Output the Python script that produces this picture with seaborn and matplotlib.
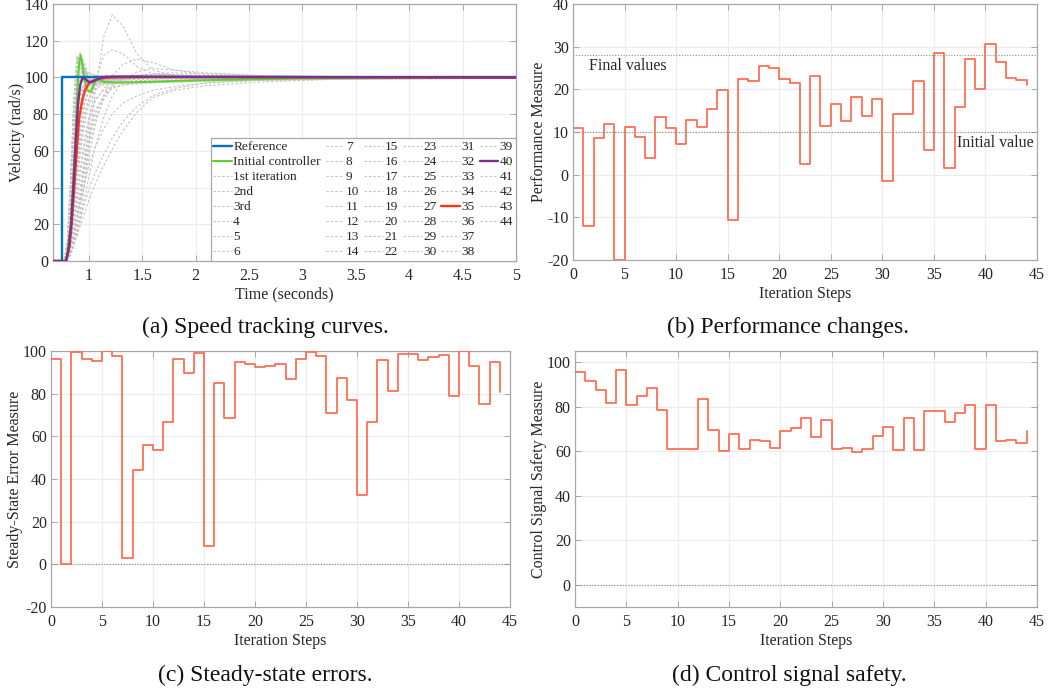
import numpy as np
import pandas as pd
import seaborn as sns
import matplotlib.pyplot as plt
from matplotlib.lines import Line2D

# ---------------- data ----------------
# (a) speed tracking curves
REF_T = [0.665, 0.75, 5.0]
REF_V = [0, 100, 100]

INIT_T = [0.665, 0.79, 0.83, 0.87, 0.895, 0.91, 0.925, 0.94, 0.96, 0.99, 1.02, 1.04,
          1.07, 1.10, 1.15, 1.25, 1.5, 2.0, 2.5, 3.0, 4.0, 5.0]
INIT_V = [0, 0, 20, 60, 95, 108, 112, 107, 98, 93, 92, 95,
          99, 98.5, 97.5, 97.2, 97.5, 98.4, 99, 99.5, 99.8, 100]

RED_T = [0.665, 0.79, 0.82, 0.84, 0.87, 0.89, 0.91, 0.94, 0.97, 1.00, 1.05, 1.10, 1.2, 1.4, 2.0, 5.0]
RED_V = [0, 0, 8, 20, 45, 62, 78, 88, 94, 96.5, 98.5, 99.4, 100, 100.2, 100.2, 100]

PUR_T = [0.665, 0.785, 0.81, 0.835, 0.86, 0.88, 0.90, 0.92, 0.94, 0.97, 1.0, 1.04, 1.08,
         1.15, 1.3, 2.0, 5.0]
PUR_V = [0, 0, 6, 20, 45, 68, 86, 96, 99.8, 99, 97.5, 97.8, 99,
         100.3, 100.5, 100.3, 100]

# grey iteration curves, sampled on a common time grid
T_GRID = [0.665, 0.77, 0.80, 0.83, 0.86, 0.89, 0.92, 0.96, 1.00, 1.06,
          1.14, 1.22, 1.32, 1.45, 1.60, 1.80, 2.10, 2.60, 3.30, 5.00]
GRAY_IDS = list(range(1, 35)) + [36, 37, 38, 39, 41, 42, 43, 44]
GRAY_V = [
    [0, 0, 3, 15, 36, 58, 76, 90, 96, 99, 100, 100.5, 100.5, 100.3, 100.2, 100, 100, 100, 100, 100],
    [0, 0, 1, 4, 9, 14, 19, 26, 33, 42, 52, 61, 71, 81, 89, 93, 95.5, 97.5, 99, 99.7],
    [0, 0, 1, 5, 12, 22, 34, 54, 74, 98, 112, 115, 113, 106, 102, 101, 100.5, 100, 100, 100],
    [0, 0, 2, 8, 16, 24, 32, 42, 52, 62, 72, 80, 86, 90, 93, 95, 97, 98.5, 99.3, 99.8],
    [0, 0, 1, 4, 9, 16, 25, 42, 62, 92, 122, 134, 128, 113, 104, 101, 100, 100, 100, 100],
    [0, 0, 1, 4, 10, 18, 28, 42, 56, 74, 90, 101, 107, 110, 108, 104, 101.5, 100.5, 100, 100],
    [0, 0, 10, 42, 85, 110, 105, 98, 97, 98.5, 99, 99.5, 100, 100, 100, 100, 100, 100, 100, 100],
    [0, 0, 1, 3, 8, 14, 22, 34, 46, 62, 78, 90, 98, 103, 105, 104, 102.5, 101, 100.3, 100],
    [0, 0, 5, 25, 55, 78, 90, 96, 98, 99, 99.5, 100, 100, 100, 100, 100, 100, 100, 100, 100],
    [0, 0, 8, 38, 80, 108, 113, 102, 97, 98, 99, 99.5, 99.8, 100, 100, 100, 100, 100, 100, 100],
    [0, 0, 2, 10, 22, 36, 50, 66, 78, 88, 93, 95, 96, 96.5, 97, 97.5, 98, 98.5, 99, 99.5],
    [0, 0, 12, 45, 88, 112, 108, 99, 96, 98, 99, 99.5, 100, 100, 100, 100, 100, 100, 100, 100],
    [0, 0, 4, 20, 45, 68, 83, 92, 96, 98, 99, 99.5, 100, 100, 100, 100, 100, 100, 100, 100],
    [0, 0, 1, 5, 11, 17, 23, 31, 39, 48, 58, 67, 76, 84, 90, 94, 97, 98.5, 99.3, 99.8],
    [0, 0, 6, 30, 70, 100, 110, 104, 99, 98, 98.5, 99, 99.5, 100, 100, 100, 100, 100, 100, 100],
    [0, 0, 3, 15, 35, 55, 72, 86, 93, 96, 97.5, 98, 98.5, 99, 99, 99.5, 99.5, 99.8, 100, 100],
    [0, 0, 8, 35, 70, 88, 94, 95, 95.5, 96, 96.5, 97, 97.2, 97.5, 97.8, 98, 98.5, 99, 99.3, 99.6],
    [0, 0, 9, 40, 82, 106, 114, 105, 98, 97, 98, 99, 99.5, 100, 100, 100, 100, 100, 100, 100],
    [0, 0, 2, 9, 20, 33, 47, 63, 76, 87, 94, 98, 100, 101, 101.5, 101.5, 101, 100.5, 100.2, 100],
    [0, 0, 7, 33, 72, 98, 108, 106, 100, 97, 97.5, 98.5, 99, 99.5, 100, 100, 100, 100, 100, 100],
    [0, 0, 2, 12, 28, 45, 62, 78, 88, 95, 98, 99, 99.5, 100, 100, 100, 100, 100, 100, 100],
    [0, 0, 11, 44, 86, 111, 110, 100, 96, 97, 98.5, 99.5, 100, 100, 100, 100, 100, 100, 100, 100],
    [0, 0, 1, 6, 14, 24, 36, 52, 66, 80, 90, 96, 99, 101, 102, 102.5, 102, 101, 100.5, 100],
    [0, 0, 5, 24, 54, 80, 95, 101, 102, 101, 100.5, 100, 100, 100, 100, 100, 100, 100, 100, 100],
    [0, 0, 3, 14, 32, 52, 70, 85, 93, 97, 98.5, 99, 99.5, 100, 100, 100, 100, 100, 100, 100],
    [0, 0, 9, 39, 80, 104, 112, 108, 101, 97, 97, 98, 99, 99.5, 100, 100, 100, 100, 100, 100],
    [0, 0, 1, 7, 17, 28, 40, 56, 70, 82, 90, 94, 96, 97, 97.5, 98, 98.5, 99, 99.4, 99.7],
    [0, 0, 6, 28, 62, 88, 100, 104, 103, 101, 100, 100, 100, 100, 100, 100, 100, 100, 100, 100],
    [0, 0, 2, 11, 26, 42, 58, 74, 85, 93, 97, 98.5, 99, 99.5, 100, 100, 100, 100, 100, 100],
    [0, 0, 10, 43, 84, 109, 112, 103, 98, 98, 99, 99.5, 100, 100, 100, 100, 100, 100, 100, 100],
    [0, 0, 4, 19, 44, 68, 85, 95, 99, 100.5, 101, 101, 100.5, 100.3, 100, 100, 100, 100, 100, 100],
    [0, 0, 7, 32, 68, 92, 102, 104, 101, 99, 99, 99.5, 100, 100, 100, 100, 100, 100, 100, 100],
    [0, 0, 3, 13, 30, 48, 65, 80, 89, 94, 96, 96.5, 97, 97, 97.3, 97.5, 98, 98.5, 99, 99.4],
    [0, 0, 8, 36, 76, 102, 111, 106, 99, 97.5, 98, 99, 99.5, 100, 100, 100, 100, 100, 100, 100],
    [0, 0, 5, 22, 50, 75, 90, 97, 99, 99.5, 100, 100, 100, 100, 100, 100, 100, 100, 100, 100],
    [0, 0, 1, 5, 13, 22, 33, 48, 62, 77, 88, 95, 99, 101, 101.5, 101.5, 101, 100.5, 100.2, 100],
    [0, 0, 9, 41, 83, 108, 111, 101, 97, 98, 99, 99.5, 100, 100, 100, 100, 100, 100, 100, 100],
    [0, 0, 6, 27, 60, 84, 96, 100, 100.5, 100.3, 100, 100, 100, 100, 100, 100, 100, 100, 100, 100],
    [0, 0, 8, 37, 78, 104, 112, 104, 98, 97.5, 98.5, 99, 99.5, 100, 100, 100, 100, 100, 100, 100],
    [0, 0, 4, 18, 40, 62, 78, 90, 95, 97, 97.5, 97.8, 98, 98.3, 98.5, 98.8, 99, 99.3, 99.6, 99.8],
    [0, 0, 7, 31, 66, 90, 100, 101, 100.5, 100, 100, 100, 100, 100, 100, 100, 100, 100, 100, 100],
    [0, 0, 5, 23, 52, 77, 91, 97, 99, 99.5, 100, 100, 100, 100, 100, 100, 100, 100, 100, 100],
]
A_XTICKS = [1, 1.5, 2, 2.5, 3, 3.5, 4, 4.5, 5]

# (b)-(d) per-iteration measures (steps 0..44)
STEPS = list(range(45))
PERF = [11.0, -12.0, 8.6, 11.8, -20.0, 11.1, 8.8, 3.9, 13.4, 10.9, 7.2, 12.8, 11.1, 15.4, 19.8,
        -10.6, 22.4, 22.0, 25.4, 24.9, 22.4, 21.4, 2.6, 23.2, 11.4, 16.5, 12.5, 18.3, 13.7, 17.8,
        -1.5, 14.3, 14.2, 22.0, 5.8, 28.6, 1.5, 15.9, 27.0, 20.0, 30.7, 26.3, 22.6, 22.1, 20.9]
PERF_FINAL = 28.0
PERF_INITIAL = 10.0
SSE = [96.1, 0.0, 99.4, 96.1, 95.5, 100.0, 97.8, 3.0, 44.2, 55.8, 53.8, 66.6, 96.4, 89.7, 98.9,
       8.4, 85.2, 68.4, 95.0, 93.7, 92.3, 92.8, 94.1, 87.0, 96.4, 99.7, 97.5, 71.1, 87.5, 77.2,
       32.3, 66.6, 95.9, 81.1, 98.4, 98.7, 95.6, 97.0, 98.1, 78.7, 100.0, 93.1, 75.0, 95.0, 80.6]
SAFETY = [95.4, 91.7, 87.6, 81.5, 96.4, 80.9, 84.8, 88.4, 78.5, 61.1, 61.1, 60.8, 83.5, 69.3, 59.9,
          67.8, 60.8, 64.8, 64.7, 61.6, 68.9, 70.6, 75.0, 66.2, 73.8, 60.8, 61.3, 59.5, 60.8, 66.8,
          70.9, 60.5, 75.0, 60.4, 77.9, 77.9, 73.3, 77.3, 80.9, 60.8, 80.9, 64.5, 64.8, 63.6, 69.0]

CAPTIONS = ["(a) Speed tracking curves.", "(b) Performance changes.",
            "(c) Steady-state errors.", "(d) Control signal safety."]

# ---------------- style ----------------
sns.set_theme(style="whitegrid")
plt.rcParams['font.family'] = ['Liberation Serif', 'DejaVu Serif']
plt.rcParams['axes.unicode_minus'] = False

STEP_COLOR = '#ff6e55'
GRAY = '#c4c4c4'
FS = 11.5


def style_axes(ax):
    ax.set_facecolor('white')
    ax.grid(True, color='#ebebeb', lw=0.8)
    for s in ax.spines.values():
        s.set_visible(True)
        s.set_color('#a8a8a8')
        s.set_linewidth(0.9)
    ax.tick_params(direction='in', length=4, width=0.7, color='#a8a8a8',
                   labelsize=FS, labelcolor='#262626',
                   bottom=True, left=True, top=True, right=True)
    ax.tick_params(axis='x', pad=5)
    ax.tick_params(axis='y', pad=3)


def iter_label(i):
    return {1: '1st iteration', 2: '2nd', 3: '3rd'}.get(i, str(i))


fig = plt.figure(figsize=(10.5, 6.94), dpi=100)

ax_a = fig.add_axes([53 / 1050, 1 - 261 / 694, 463 / 1050, 257 / 694])
ax_b = fig.add_axes([573 / 1050, 1 - 260 / 694, 464 / 1050, 256 / 694])
ax_c = fig.add_axes([51 / 1050, 1 - 607 / 694, 459 / 1050, 256 / 694])
ax_d = fig.add_axes([575 / 1050, 1 - 607 / 694, 462 / 1050, 256 / 694])

# ---- (a) ----
ax = ax_a
sns.lineplot(x=REF_T, y=REF_V, ax=ax, color='#0072bd', lw=1.7, drawstyle='steps-post',
             estimator=None, sort=False, label='Reference', zorder=5)
sns.lineplot(x=INIT_T, y=INIT_V, ax=ax, color='#5fd12c', lw=1.5, estimator=None,
             sort=False, label='Initial controller', zorder=4)
gray_map = dict(zip(GRAY_IDS, GRAY_V))
for i in range(1, 45):
    if i == 35:
        sns.lineplot(x=RED_T, y=RED_V, ax=ax, color='#ff3614', lw=1.7, estimator=None,
                     sort=False, label=iter_label(i), zorder=6)
    elif i == 40:
        sns.lineplot(x=PUR_T, y=PUR_V, ax=ax, color='#7e2f8e', lw=1.7, estimator=None,
                     sort=False, label=iter_label(i), zorder=7)
    else:
        sns.lineplot(x=T_GRID, y=gray_map[i], ax=ax, color=GRAY, lw=0.8,
                     linestyle=(0, (2.2, 1.8)), estimator=None, sort=False,
                     label=iter_label(i), zorder=2)
ax.set_xlim(0.665, 5)
ax.set_ylim(0, 140)
ax.set_xticks(A_XTICKS)
ax.set_xticklabels(['%g' % v for v in A_XTICKS])
ax.set_yticks(range(0, 141, 20))
ax.set_xlabel('Time (seconds)', fontsize=FS, labelpad=2)
ax.set_ylabel('Velocity (rad/s)', fontsize=FS, labelpad=0)
style_axes(ax)
handles, labels = ax.get_legend_handles_labels()
# two blank slots so the columns fill 8/8/8/8/8/6 like the original
blank = Line2D([], [], color='none')
handles += [blank, blank]
labels += ['', '']
leg = ax.legend(handles, labels, loc='lower right', ncol=6, fontsize=9.6, frameon=True,
                fancybox=False, framealpha=1, edgecolor='#a8a8a8', borderaxespad=0,
                borderpad=0.2, labelspacing=0.2, handlelength=1.4, handletextpad=0.1,
                columnspacing=0.38)
leg.get_frame().set_linewidth(0.9)

# ---- (b) ----
ax = ax_b
sns.lineplot(x=STEPS, y=PERF, ax=ax, color=STEP_COLOR, lw=1.3, drawstyle='steps-post',
             estimator=None, sort=False, zorder=3)
ax.axhline(PERF_FINAL, color='#8c8c8c', lw=0.8, ls=(0, (1, 1.5)), zorder=2)
ax.axhline(PERF_INITIAL, color='#8c8c8c', lw=0.8, ls=(0, (1, 1.5)), zorder=2)
ax.text(1.56, 25.5, 'Final values', fontsize=FS, va='center', ha='left', color='#262626')
ax.text(44.7, 7.4, 'Initial value', fontsize=FS, va='center', ha='right', color='#262626')
ax.set_xlim(0, 45)
ax.set_ylim(-20, 40)
ax.set_xticks(range(0, 46, 5))
ax.set_yticks(range(-20, 41, 10))
ax.set_xlabel('Iteration Steps', fontsize=FS, labelpad=2)
ax.set_ylabel('Performance Measure', fontsize=FS, labelpad=0)
style_axes(ax)

# ---- (c) ----
ax = ax_c
sns.lineplot(x=STEPS, y=SSE, ax=ax, color=STEP_COLOR, lw=1.3, drawstyle='steps-post',
             estimator=None, sort=False, zorder=3)
ax.axhline(0, color='#8c8c8c', lw=0.8, ls=(0, (1, 1.5)), zorder=2)
ax.set_xlim(0, 45)
ax.set_ylim(-20, 100)
ax.set_xticks(range(0, 46, 5))
ax.set_yticks(range(-20, 101, 20))
ax.set_xlabel('Iteration Steps', fontsize=FS, labelpad=2)
ax.set_ylabel('Steady-State Error Measure', fontsize=FS, labelpad=0)
style_axes(ax)

# ---- (d) ----
ax = ax_d
sns.lineplot(x=STEPS, y=SAFETY, ax=ax, color=STEP_COLOR, lw=1.3, drawstyle='steps-post',
             estimator=None, sort=False, zorder=3)
ax.axhline(0, color='#8c8c8c', lw=0.8, ls=(0, (1, 1.5)), zorder=2)
ax.set_xlim(0, 45)
ax.set_ylim(-10, 105)
ax.set_xticks(range(0, 46, 5))
ax.set_yticks(range(0, 101, 20))
ax.set_xlabel('Iteration Steps', fontsize=FS, labelpad=2)
ax.set_ylabel('Control Signal Safety Measure', fontsize=FS, labelpad=0)
style_axes(ax)

# captions
for (cx, cy), txt in zip([(265, 327), (788, 327), (265, 675), (789, 675)], CAPTIONS):
    fig.text(cx / 1050, 1 - cy / 694, txt, fontsize=17, ha='center', va='center',
             color='#111111')

fig.savefig('out.png', dpi=100)
